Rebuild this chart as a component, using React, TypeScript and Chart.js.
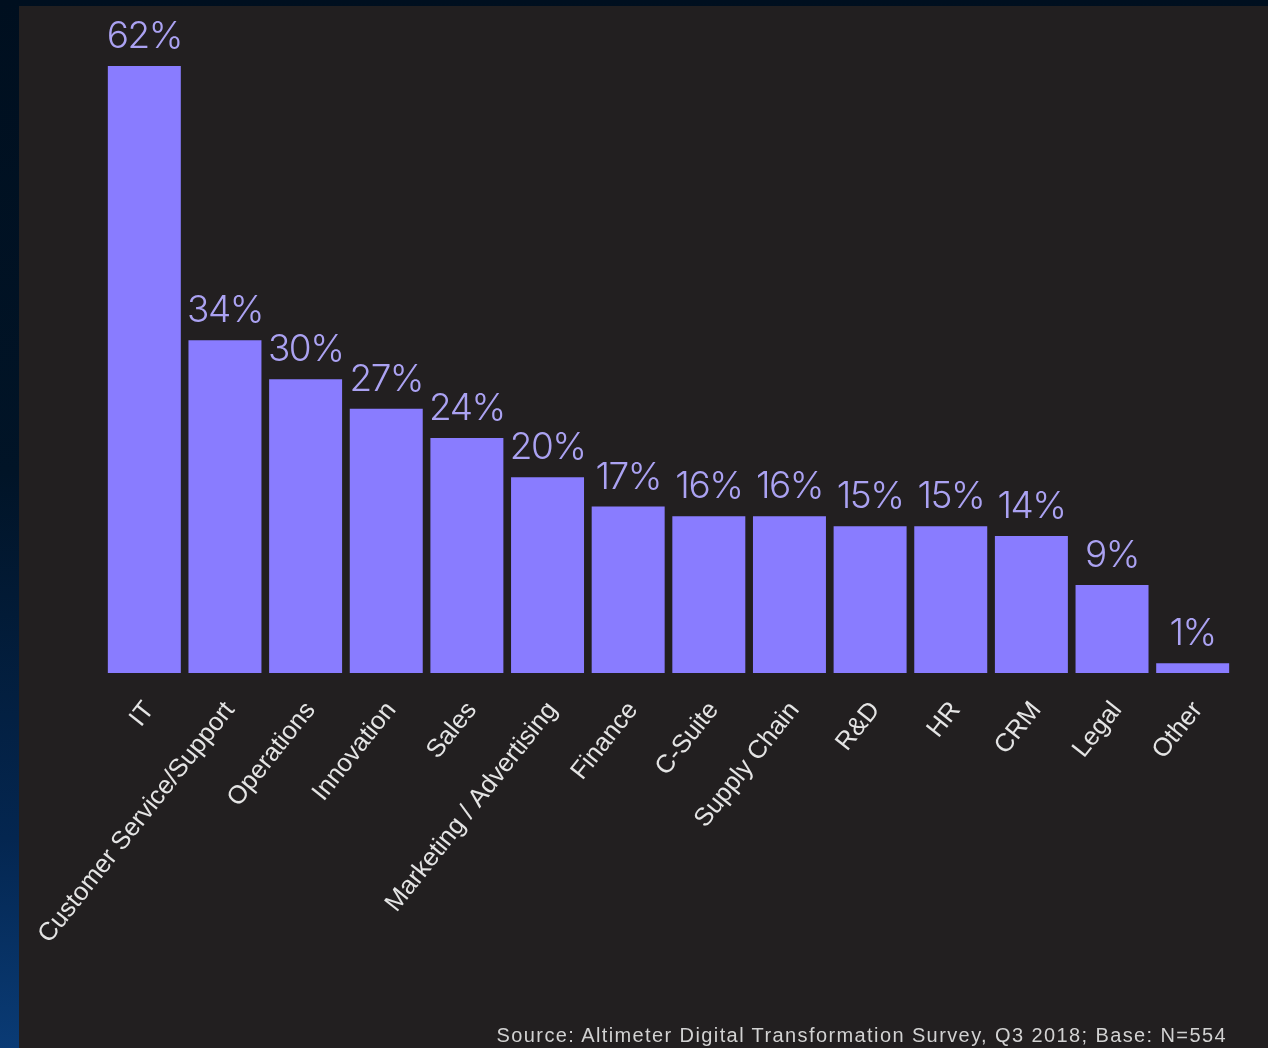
import React, { useEffect, useRef } from "react";
import { Chart, registerables } from "chart.js";

Chart.register(...registerables);

const categories: string[] = [
  "IT",
  "Customer Service/Support",
  "Operations",
  "Innovation",
  "Sales",
  "Marketing / Advertising",
  "Finance",
  "C-Suite",
  "Supply Chain",
  "R&D",
  "HR",
  "CRM",
  "Legal",
  "Other",
];

const values: number[] = [62, 34, 30, 27, 24, 20, 17, 16, 16, 15, 15, 14, 9, 1];

const valueLabels: string[] = values.map((v) => `${v}%`);

const sourceText = "Source: Altimeter Digital Transformation Survey, Q3 2018; Base: N=554";

const valueLabelPlugin = {
  id: "valueLabels",
  afterDatasetsDraw(chart: any) {
    const ctx = chart.ctx;
    const meta = chart.getDatasetMeta(0);
    ctx.save();
    ctx.font = "300 37px Inter";
    ctx.fillStyle = "#aba2f2";
    ctx.textAlign = "center";
    ctx.textBaseline = "alphabetic";
    try {
      (ctx as any).letterSpacing = "-1.5px";
    } catch (e) {}
    meta.data.forEach((bar: any, i: number) => {
      ctx.fillText(valueLabels[i], bar.x, bar.y - 18);
    });
    ctx.restore();
  },
};

export default function App() {
  const canvasRef = useRef<HTMLCanvasElement | null>(null);

  useEffect(() => {
    if (!canvasRef.current) return;
    const chart = new Chart(canvasRef.current, {
      type: "bar",
      data: {
        labels: categories,
        datasets: [
          {
            data: values,
            backgroundColor: "#897cff",
            borderWidth: 0,
            categoryPercentage: 1,
            barPercentage: 0.905,
          },
        ],
      },
      options: {
        responsive: false,
        animation: false,
        layout: { padding: { left: 85, right: 35, top: 60, bottom: 0 } },
        plugins: {
          legend: { display: false },
          tooltip: { enabled: false },
          title: { display: false },
        },
        scales: {
          y: {
            display: false,
            min: 0,
            max: 62,
          },
          x: {
            grid: { display: false },
            border: { display: false },
            ticks: {
              color: "#e4e4e4",
              font: { family: "'Liberation Sans', Arial, sans-serif", size: 25.5 },
              minRotation: 51.5,
              maxRotation: 51.5,
              autoSkip: false,
              padding: 15,
              labelOffset: 5,
            },
            afterFit: (scale: any) => {
              scale.height = 375;
            },
          },
        },
      },
      plugins: [valueLabelPlugin],
    });
    return () => chart.destroy();
  }, []);

  return (
    <div
      style={{
        position: "fixed",
        inset: 0,
        background:
          "linear-gradient(180deg, #000f1f 0%, #011427 45%, #042650 80%, #0a3b75 100%)",
      }}
    >
      <div
        style={{
          position: "absolute",
          left: 19,
          top: 6,
          width: 1249,
          height: 1042,
          background: "#221f20",
        }}
      >
        <canvas
          ref={canvasRef}
          width={1249}
          height={1042}
          style={{ display: "block" }}
        />
        <div
          style={{
            position: "absolute",
            right: 41,
            top: 1018,
            fontFamily: "'Liberation Sans', Arial, sans-serif",
            fontSize: 20,
            letterSpacing: "1.4px",
            color: "#d2d2d2",
            whiteSpace: "nowrap",
            lineHeight: "22px",
          }}
        >
          {sourceText}
        </div>
      </div>
    </div>
  );
}
